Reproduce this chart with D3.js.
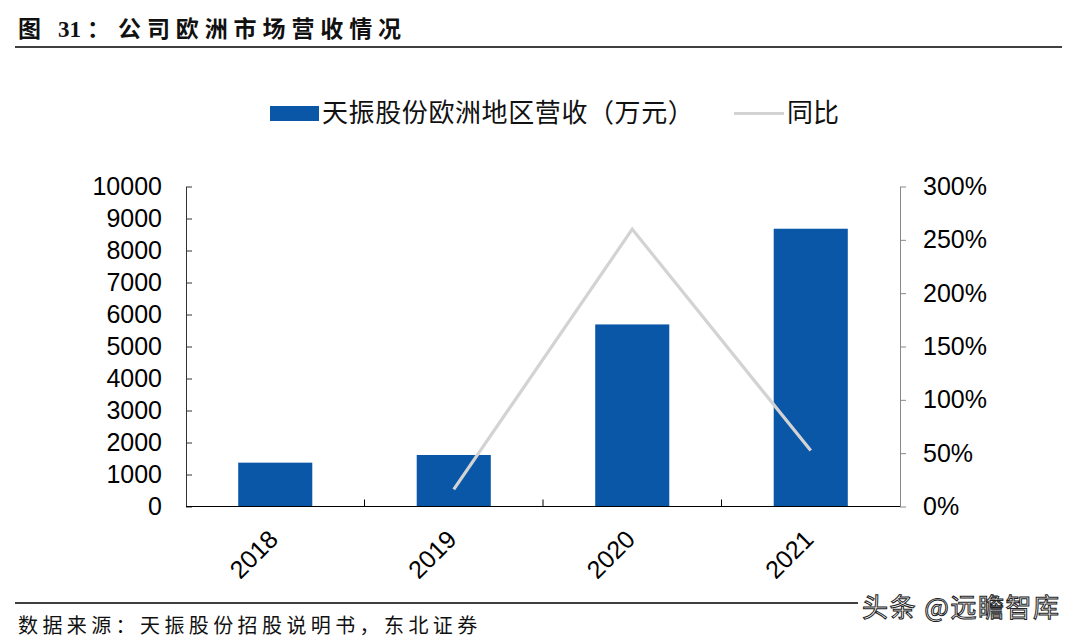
<!DOCTYPE html>
<html><head><meta charset="utf-8">
<script src="https://cdn.jsdelivr.net/npm/d3@7"></script>
<style>body{margin:0;background:#fff}svg{display:block}</style>
</head><body>
<svg id="c" width="1080" height="642"></svg>
<script>
const categories = ["2018", "2019", "2020", "2021"];
const revenue = [1370, 1610, 5690, 8680];
const yoy = [null, 0.16, 2.60, 0.524];
const leftTicks = [0,1000,2000,3000,4000,5000,6000,7000,8000,9000,10000];
const rightTicks = [0,0.5,1,1.5,2,2.5,3];
const seriesNames = ["天振股份欧洲地区营收（万元）", "同比"];
const titleParts = ["图", "31：", "公司欧洲市场营收情况"];
const sourceText = "数据来源：天振股份招股说明书，东北证券";
const watermark = "头条 @远瞻智库";

const svg = d3.select("#c");
const L = 186, R = 900, T = 186.5, B = 506.5;
const sans = "'Liberation Sans', Arial, 'Noto Sans CJK SC', sans-serif";
const cjk = "'Noto Sans CJK SC', sans-serif";
const barColor = "#0a57a8", lineColor = "#d3d3d3";

// Title
const tt = svg.append("text").attr("y", 37).attr("font-size", 23).attr("font-weight", "bold").attr("fill", "#111");
tt.append("tspan").attr("x", 18).attr("font-family", cjk).text(titleParts[0]);
tt.append("tspan").attr("x", 58).attr("font-family", "'Liberation Serif', serif").text(titleParts[1].slice(0,2));
tt.append("tspan").attr("x", 87).attr("font-family", cjk).text(titleParts[1].slice(2));
tt.append("tspan").attr("x", 118).attr("font-family", cjk).attr("letter-spacing", 5.9).text(titleParts[2]);
svg.append("line").attr("x1", 15).attr("x2", 1062).attr("y1", 47).attr("y2", 47).attr("stroke", "#000").attr("stroke-width", 1.5);

// Scales
const x = d3.scaleBand().domain(categories).range([L, R]).paddingInner(0.585).paddingOuter(0.2925);
const y = d3.scaleLinear().domain([0, 10000]).range([B, T]);
const y2 = d3.scaleLinear().domain([0, 3]).range([B, T]);

// Bars
svg.append("g").selectAll("rect").data(revenue).join("rect")
  .attr("x", (d,i) => x(categories[i])).attr("width", x.bandwidth())
  .attr("y", d => y(d)).attr("height", d => B - y(d)).attr("fill", barColor);

// Line
const pts = yoy.map((v,i) => v == null ? null : [x(categories[i]) + x.bandwidth()/2, y2(v)]).filter(p => p);
svg.append("path").attr("d", d3.line()(pts)).attr("fill", "none").attr("stroke", lineColor).attr("stroke-width", 3.2);

// Left axis
const la = svg.append("g").attr("transform", `translate(${L},0)`)
  .call(d3.axisLeft(y).tickValues(leftTicks).tickSizeInner(-6).tickSizeOuter(0).tickPadding(24).tickFormat(d3.format("d")));
la.select(".domain").attr("stroke", "#333");
la.selectAll(".tick line").attr("stroke", "#333");
la.selectAll("text").attr("font-family", sans).attr("font-size", 25).attr("fill", "#000");

// Right axis
const ra = svg.append("g").attr("transform", `translate(${R},0)`)
  .call(d3.axisRight(y2).tickValues(rightTicks).tickSizeInner(6).tickSizeOuter(0).tickPadding(17).tickFormat(d3.format(".0%")));
ra.select(".domain").attr("stroke", "#888");
ra.selectAll(".tick line").attr("stroke", "#888");
ra.selectAll("text").attr("font-family", sans).attr("font-size", 25).attr("fill", "#000");

// X axis
const xa = svg.append("g").attr("transform", `translate(0,${B})`);
xa.append("line").attr("x1", L).attr("x2", R).attr("stroke", "#000").attr("stroke-width", 1.2);
categories.slice(1).forEach(c => {
  const bx = x(c) - x.step()*x.paddingInner()/2;
  xa.append("line").attr("x1", bx).attr("x2", bx).attr("y1", 0).attr("y2", -7).attr("stroke", "#000");
});
xa.selectAll("text.cat").data(categories).join("text").attr("class","cat")
  .attr("transform", d => `translate(${x(d) + x.bandwidth()/2 - 2},${28}) rotate(-45)`)
  .attr("text-anchor", "end").attr("dominant-baseline", "central")
  .attr("font-family", sans).attr("font-size", 25).attr("fill", "#000").text(d => d);

// Legend
svg.append("rect").attr("x", 270).attr("y", 106).attr("width", 49).attr("height", 15).attr("fill", barColor);
svg.append("text").attr("x", 322).attr("y", 122).attr("font-family", cjk).attr("font-size", 26).attr("letter-spacing", 0.6).attr("fill", "#111").text(seriesNames[0]);
svg.append("line").attr("x1", 734).attr("x2", 784).attr("y1", 113.5).attr("y2", 113.5).attr("stroke", lineColor).attr("stroke-width", 3.2);
svg.append("text").attr("x", 787).attr("y", 122).attr("font-family", cjk).attr("font-size", 26).attr("fill", "#111").text(seriesNames[1]);

// Footer
svg.append("line").attr("x1", 15).attr("x2", 1062).attr("y1", 603).attr("y2", 603).attr("stroke", "#000").attr("stroke-width", 1.5);
svg.append("text").attr("x", 18).attr("y", 633).attr("font-family", cjk).attr("font-size", 20).attr("letter-spacing", 4.4).attr("fill", "#111").text(sourceText);
svg.append("rect").attr("x", 858).attr("y", 592).attr("width", 210).attr("height", 30).attr("fill", "#fff");
svg.append("text").attr("x", 862).attr("y", 617).attr("font-family", cjk).attr("font-size", 26).attr("letter-spacing", 1.5).attr("fill", "#fff").attr("stroke", "#222").attr("stroke-width", 1).text(watermark);
</script>
</body></html>
